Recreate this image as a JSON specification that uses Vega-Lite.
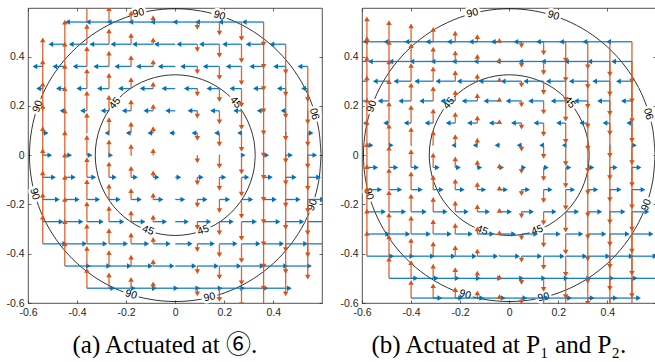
{
"$schema": "https://vega.github.io/schema/vega-lite/v6.json",
"padding": {"left": 5, "top": 5, "right": 0, "bottom": 0},
"spacing": 14,
"config": {
  "view": {"stroke": "#262626", "strokeWidth": 0.8},
  "axis": {"grid": false, "domain": false, "tickSize": -3, "tickColor": "#262626", "tickWidth": 0.7, "labelFont": "Liberation Sans", "labelFontSize": 10.5, "labelColor": "#262626", "labelPadding": 7, "labelFlush": false, "labelOverlap": false}
},
"datasets": {
"circ": [
{"c":"i","k":0,"x":0.326,"y":0},{"c":"i","k":1,"x":0.321,"y":0.0566},{"c":"i","k":2,"x":0.3063,"y":0.1115},{"c":"i","k":3,"x":0.2823,"y":0.163},{"c":"i","k":4,"x":0.2497,"y":0.2096},{"c":"i","k":5,"x":0.2096,"y":0.2497},{"c":"i","k":6,"x":0.163,"y":0.2823},{"c":"i","k":7,"x":0.1115,"y":0.3063},{"c":"i","k":8,"x":0.0566,"y":0.321},{"c":"i","k":9,"x":0,"y":0.326},{"c":"i","k":10,"x":-0.0566,"y":0.321},{"c":"i","k":11,"x":-0.1115,"y":0.3063},{"c":"i","k":12,"x":-0.163,"y":0.2823},{"c":"i","k":13,"x":-0.2096,"y":0.2497},{"c":"i","k":14,"x":-0.2497,"y":0.2096},{"c":"i","k":15,"x":-0.2823,"y":0.163},{"c":"i","k":16,"x":-0.3063,"y":0.1115},{"c":"i","k":17,"x":-0.321,"y":0.0566},{"c":"i","k":18,"x":-0.326,"y":0},{"c":"i","k":19,"x":-0.321,"y":-0.0566},{"c":"i","k":20,"x":-0.3063,"y":-0.1115},{"c":"i","k":21,"x":-0.2823,"y":-0.163},{"c":"i","k":22,"x":-0.2497,"y":-0.2096},{"c":"i","k":23,"x":-0.2096,"y":-0.2497},{"c":"i","k":24,"x":-0.163,"y":-0.2823},{"c":"i","k":25,"x":-0.1115,"y":-0.3063},{"c":"i","k":26,"x":-0.0566,"y":-0.321},{"c":"i","k":27,"x":0,"y":-0.326},{"c":"i","k":28,"x":0.0566,"y":-0.321},{"c":"i","k":29,"x":0.1115,"y":-0.3063},{"c":"i","k":30,"x":0.163,"y":-0.2823},{"c":"i","k":31,"x":0.2096,"y":-0.2497},{"c":"i","k":32,"x":0.2497,"y":-0.2096},{"c":"i","k":33,"x":0.2823,"y":-0.163},{"c":"i","k":34,"x":0.3063,"y":-0.1115},{"c":"i","k":35,"x":0.321,"y":-0.0566},{"c":"i","k":36,"x":0.326,"y":0},
{"c":"o","k":0,"x":0.594,"y":0},{"c":"o","k":1,"x":0.585,"y":0.1031},{"c":"o","k":2,"x":0.5582,"y":0.2031},{"c":"o","k":3,"x":0.5144,"y":0.297},{"c":"o","k":4,"x":0.455,"y":0.3818},{"c":"o","k":5,"x":0.3818,"y":0.455},{"c":"o","k":6,"x":0.297,"y":0.5144},{"c":"o","k":7,"x":0.2031,"y":0.5582},{"c":"o","k":8,"x":0.1031,"y":0.585},{"c":"o","k":9,"x":0,"y":0.594},{"c":"o","k":10,"x":-0.1031,"y":0.585},{"c":"o","k":11,"x":-0.2031,"y":0.5582},{"c":"o","k":12,"x":-0.297,"y":0.5144},{"c":"o","k":13,"x":-0.3818,"y":0.455},{"c":"o","k":14,"x":-0.455,"y":0.3818},{"c":"o","k":15,"x":-0.5144,"y":0.297},{"c":"o","k":16,"x":-0.5582,"y":0.2031},{"c":"o","k":17,"x":-0.585,"y":0.1031},{"c":"o","k":18,"x":-0.594,"y":0},{"c":"o","k":19,"x":-0.585,"y":-0.1031},{"c":"o","k":20,"x":-0.5582,"y":-0.2031},{"c":"o","k":21,"x":-0.5144,"y":-0.297},{"c":"o","k":22,"x":-0.455,"y":-0.3818},{"c":"o","k":23,"x":-0.3818,"y":-0.455},{"c":"o","k":24,"x":-0.297,"y":-0.5144},{"c":"o","k":25,"x":-0.2031,"y":-0.5582},{"c":"o","k":26,"x":-0.1031,"y":-0.585},{"c":"o","k":27,"x":0,"y":-0.594},{"c":"o","k":28,"x":0.1031,"y":-0.585},{"c":"o","k":29,"x":0.2031,"y":-0.5582},{"c":"o","k":30,"x":0.297,"y":-0.5144},{"c":"o","k":31,"x":0.3818,"y":-0.455},{"c":"o","k":32,"x":0.455,"y":-0.3818},{"c":"o","k":33,"x":0.5144,"y":-0.297},{"c":"o","k":34,"x":0.5582,"y":-0.2031},{"c":"o","k":35,"x":0.585,"y":-0.1031},{"c":"o","k":36,"x":0.594,"y":0}
],
"lab": [
{"k":1,"t":"90","x":-0.15,"y":0.576},{"k":2,"t":"90","x":0.18,"y":0.566},{"k":3,"t":"90","x":-0.56,"y":0.198},{"k":4,"t":"90","x":-0.573,"y":-0.158},{"k":5,"t":"90","x":0.571,"y":0.168},{"k":6,"t":"90","x":0.559,"y":-0.202},{"k":7,"t":"90","x":-0.18,"y":-0.566},{"k":8,"t":"90","x":0.14,"y":-0.577},{"k":9,"t":"45","x":-0.246,"y":0.21},{"k":10,"t":"45","x":0.246,"y":0.213},{"k":11,"t":"45","x":-0.111,"y":-0.306},{"k":12,"t":"45","x":0.114,"y":-0.305}
],
"arr": [
{"p":"a","x":-0.54,"y":0.36,"xu":-0.572,"yv":0.468},{"p":"a","x":-0.54,"y":0.27,"xu":-0.557,"yv":0.378},{"p":"a","x":-0.54,"y":0.18,"xu":-0.542,"yv":0.288},{"p":"a","x":-0.54,"y":0.09,"xu":-0.526,"yv":0.198},{"p":"a","x":-0.54,"y":0,"xu":-0.511,"yv":0.108},{"p":"a","x":-0.54,"y":-0.09,"xu":-0.496,"yv":0.018},{"p":"a","x":-0.54,"y":-0.18,"xu":-0.48,"yv":-0.072},{"p":"a","x":-0.54,"y":-0.27,"xu":-0.465,"yv":-0.162},{"p":"a","x":-0.54,"y":-0.36,"xu":-0.45,"yv":-0.252},
{"p":"a","x":-0.45,"y":0.45,"xu":-0.507,"yv":0.54},{"p":"a","x":-0.45,"y":0.36,"xu":-0.491,"yv":0.45},{"p":"a","x":-0.45,"y":0.27,"xu":-0.476,"yv":0.36},{"p":"a","x":-0.45,"y":0.18,"xu":-0.461,"yv":0.27},{"p":"a","x":-0.45,"y":0.09,"xu":-0.445,"yv":0.18},{"p":"a","x":-0.45,"y":0,"xu":-0.43,"yv":0.09},{"p":"a","x":-0.45,"y":-0.09,"xu":-0.415,"yv":0},{"p":"a","x":-0.45,"y":-0.18,"xu":-0.399,"yv":-0.09},{"p":"a","x":-0.45,"y":-0.27,"xu":-0.384,"yv":-0.18},{"p":"a","x":-0.45,"y":-0.36,"xu":-0.369,"yv":-0.27},{"p":"a","x":-0.45,"y":-0.45,"xu":-0.354,"yv":-0.36},
{"p":"a","x":-0.36,"y":0.54,"xu":-0.439,"yv":0.612},{"p":"a","x":-0.36,"y":0.45,"xu":-0.424,"yv":0.522},{"p":"a","x":-0.36,"y":0.36,"xu":-0.408,"yv":0.432},{"p":"a","x":-0.36,"y":0.27,"xu":-0.393,"yv":0.342},{"p":"a","x":-0.36,"y":0.18,"xu":-0.378,"yv":0.252},{"p":"a","x":-0.36,"y":0.09,"xu":-0.362,"yv":0.162},{"p":"a","x":-0.36,"y":0,"xu":-0.347,"yv":0.072},{"p":"a","x":-0.36,"y":-0.09,"xu":-0.332,"yv":-0.018},{"p":"a","x":-0.36,"y":-0.18,"xu":-0.316,"yv":-0.108},{"p":"a","x":-0.36,"y":-0.27,"xu":-0.301,"yv":-0.198},{"p":"a","x":-0.36,"y":-0.36,"xu":-0.286,"yv":-0.288},{"p":"a","x":-0.36,"y":-0.45,"xu":-0.271,"yv":-0.378},{"p":"a","x":-0.36,"y":-0.54,"xu":-0.255,"yv":-0.468},
{"p":"a","x":-0.27,"y":0.54,"xu":-0.355,"yv":0.594},{"p":"a","x":-0.27,"y":0.45,"xu":-0.34,"yv":0.504},{"p":"a","x":-0.27,"y":0.36,"xu":-0.324,"yv":0.414},{"p":"a","x":-0.27,"y":0.27,"xu":-0.309,"yv":0.324},{"p":"a","x":-0.27,"y":0.18,"xu":-0.294,"yv":0.234},{"p":"a","x":-0.27,"y":0.09,"xu":-0.278,"yv":0.144},{"p":"a","x":-0.27,"y":0,"xu":-0.263,"yv":0.054},{"p":"a","x":-0.27,"y":-0.09,"xu":-0.248,"yv":-0.036},{"p":"a","x":-0.27,"y":-0.18,"xu":-0.232,"yv":-0.126},{"p":"a","x":-0.27,"y":-0.27,"xu":-0.217,"yv":-0.216},{"p":"a","x":-0.27,"y":-0.36,"xu":-0.202,"yv":-0.306},{"p":"a","x":-0.27,"y":-0.45,"xu":-0.187,"yv":-0.396},{"p":"a","x":-0.27,"y":-0.54,"xu":-0.171,"yv":-0.486},
{"p":"a","x":-0.18,"y":0.54,"xu":-0.269,"yv":0.576},{"p":"a","x":-0.18,"y":0.45,"xu":-0.254,"yv":0.486},{"p":"a","x":-0.18,"y":0.36,"xu":-0.238,"yv":0.396},{"p":"a","x":-0.18,"y":0.27,"xu":-0.223,"yv":0.306},{"p":"a","x":-0.18,"y":0.18,"xu":-0.208,"yv":0.216},{"p":"a","x":-0.18,"y":0.09,"xu":-0.192,"yv":0.126},{"p":"a","x":-0.18,"y":0,"xu":-0.177,"yv":0.036},{"p":"a","x":-0.18,"y":-0.09,"xu":-0.162,"yv":-0.054},{"p":"a","x":-0.18,"y":-0.18,"xu":-0.146,"yv":-0.144},{"p":"a","x":-0.18,"y":-0.27,"xu":-0.131,"yv":-0.234},{"p":"a","x":-0.18,"y":-0.36,"xu":-0.116,"yv":-0.324},{"p":"a","x":-0.18,"y":-0.45,"xu":-0.101,"yv":-0.414},{"p":"a","x":-0.18,"y":-0.54,"xu":-0.085,"yv":-0.504},
{"p":"a","x":-0.09,"y":0.54,"xu":-0.181,"yv":0.558},{"p":"a","x":-0.09,"y":0.45,"xu":-0.166,"yv":0.468},{"p":"a","x":-0.09,"y":0.36,"xu":-0.15,"yv":0.378},{"p":"a","x":-0.09,"y":0.27,"xu":-0.135,"yv":0.288},{"p":"a","x":-0.09,"y":0.18,"xu":-0.12,"yv":0.198},{"p":"a","x":-0.09,"y":0.09,"xu":-0.104,"yv":0.108},{"p":"a","x":-0.09,"y":0,"xu":-0.089,"yv":0.018},{"p":"a","x":-0.09,"y":-0.09,"xu":-0.074,"yv":-0.072},{"p":"a","x":-0.09,"y":-0.18,"xu":-0.058,"yv":-0.162},{"p":"a","x":-0.09,"y":-0.27,"xu":-0.043,"yv":-0.252},{"p":"a","x":-0.09,"y":-0.36,"xu":-0.028,"yv":-0.342},{"p":"a","x":-0.09,"y":-0.45,"xu":-0.013,"yv":-0.432},{"p":"a","x":-0.09,"y":-0.54,"xu":0.003,"yv":-0.522},
{"p":"a","x":0,"y":0.54,"xu":-0.092,"yv":0.54},{"p":"a","x":0,"y":0.45,"xu":-0.077,"yv":0.45},{"p":"a","x":0,"y":0.36,"xu":-0.061,"yv":0.36},{"p":"a","x":0,"y":0.27,"xu":-0.046,"yv":0.27},{"p":"a","x":0,"y":0.18,"xu":-0.031,"yv":0.18},{"p":"a","x":0,"y":0.09,"xu":-0.015,"yv":0.09},{"p":"a","x":0,"y":0,"xu":0,"yv":0},{"p":"a","x":0,"y":-0.09,"xu":0.015,"yv":-0.09},{"p":"a","x":0,"y":-0.18,"xu":0.031,"yv":-0.18},{"p":"a","x":0,"y":-0.27,"xu":0.046,"yv":-0.27},{"p":"a","x":0,"y":-0.36,"xu":0.061,"yv":-0.36},{"p":"a","x":0,"y":-0.45,"xu":0.077,"yv":-0.45},{"p":"a","x":0,"y":-0.54,"xu":0.092,"yv":-0.54},
{"p":"a","x":0.09,"y":0.54,"xu":-0.001,"yv":0.518},{"p":"a","x":0.09,"y":0.45,"xu":0.015,"yv":0.428},{"p":"a","x":0.09,"y":0.36,"xu":0.03,"yv":0.338},{"p":"a","x":0.09,"y":0.27,"xu":0.045,"yv":0.248},{"p":"a","x":0.09,"y":0.18,"xu":0.06,"yv":0.158},{"p":"a","x":0.09,"y":0.09,"xu":0.076,"yv":0.068},{"p":"a","x":0.09,"y":0,"xu":0.091,"yv":-0.023},{"p":"a","x":0.09,"y":-0.09,"xu":0.106,"yv":-0.113},{"p":"a","x":0.09,"y":-0.18,"xu":0.122,"yv":-0.203},{"p":"a","x":0.09,"y":-0.27,"xu":0.137,"yv":-0.293},{"p":"a","x":0.09,"y":-0.36,"xu":0.152,"yv":-0.383},{"p":"a","x":0.09,"y":-0.45,"xu":0.168,"yv":-0.473},{"p":"a","x":0.09,"y":-0.54,"xu":0.183,"yv":-0.563},
{"p":"a","x":0.18,"y":0.54,"xu":0.091,"yv":0.495},{"p":"a","x":0.18,"y":0.45,"xu":0.107,"yv":0.405},{"p":"a","x":0.18,"y":0.36,"xu":0.122,"yv":0.315},{"p":"a","x":0.18,"y":0.27,"xu":0.137,"yv":0.225},{"p":"a","x":0.18,"y":0.18,"xu":0.152,"yv":0.135},{"p":"a","x":0.18,"y":0.09,"xu":0.168,"yv":0.045},{"p":"a","x":0.18,"y":0,"xu":0.183,"yv":-0.045},{"p":"a","x":0.18,"y":-0.09,"xu":0.198,"yv":-0.135},{"p":"a","x":0.18,"y":-0.18,"xu":0.214,"yv":-0.225},{"p":"a","x":0.18,"y":-0.27,"xu":0.229,"yv":-0.315},{"p":"a","x":0.18,"y":-0.36,"xu":0.244,"yv":-0.405},{"p":"a","x":0.18,"y":-0.45,"xu":0.26,"yv":-0.495},{"p":"a","x":0.18,"y":-0.54,"xu":0.275,"yv":-0.585},
{"p":"a","x":0.27,"y":0.54,"xu":0.185,"yv":0.473},{"p":"a","x":0.27,"y":0.45,"xu":0.201,"yv":0.383},{"p":"a","x":0.27,"y":0.36,"xu":0.216,"yv":0.293},{"p":"a","x":0.27,"y":0.27,"xu":0.231,"yv":0.203},{"p":"a","x":0.27,"y":0.18,"xu":0.246,"yv":0.113},{"p":"a","x":0.27,"y":0.09,"xu":0.262,"yv":0.023},{"p":"a","x":0.27,"y":0,"xu":0.277,"yv":-0.068},{"p":"a","x":0.27,"y":-0.09,"xu":0.292,"yv":-0.158},{"p":"a","x":0.27,"y":-0.18,"xu":0.308,"yv":-0.248},{"p":"a","x":0.27,"y":-0.27,"xu":0.323,"yv":-0.338},{"p":"a","x":0.27,"y":-0.36,"xu":0.338,"yv":-0.428},{"p":"a","x":0.27,"y":-0.45,"xu":0.354,"yv":-0.518},{"p":"a","x":0.27,"y":-0.54,"xu":0.369,"yv":-0.608},
{"p":"a","x":0.36,"y":0.54,"xu":0.281,"yv":0.45},{"p":"a","x":0.36,"y":0.45,"xu":0.297,"yv":0.36},{"p":"a","x":0.36,"y":0.36,"xu":0.312,"yv":0.27},{"p":"a","x":0.36,"y":0.27,"xu":0.327,"yv":0.18},{"p":"a","x":0.36,"y":0.18,"xu":0.342,"yv":0.09},{"p":"a","x":0.36,"y":0.09,"xu":0.358,"yv":0},{"p":"a","x":0.36,"y":0,"xu":0.373,"yv":-0.09},{"p":"a","x":0.36,"y":-0.09,"xu":0.388,"yv":-0.18},{"p":"a","x":0.36,"y":-0.18,"xu":0.404,"yv":-0.27},{"p":"a","x":0.36,"y":-0.27,"xu":0.419,"yv":-0.36},{"p":"a","x":0.36,"y":-0.36,"xu":0.434,"yv":-0.45},{"p":"a","x":0.36,"y":-0.45,"xu":0.45,"yv":-0.54},{"p":"a","x":0.36,"y":-0.54,"xu":0.465,"yv":-0.63},
{"p":"a","x":0.45,"y":0.45,"xu":0.394,"yv":0.338},{"p":"a","x":0.45,"y":0.36,"xu":0.409,"yv":0.248},{"p":"a","x":0.45,"y":0.27,"xu":0.424,"yv":0.158},{"p":"a","x":0.45,"y":0.18,"xu":0.439,"yv":0.068},{"p":"a","x":0.45,"y":0.09,"xu":0.455,"yv":-0.023},{"p":"a","x":0.45,"y":0,"xu":0.47,"yv":-0.113},{"p":"a","x":0.45,"y":-0.09,"xu":0.485,"yv":-0.203},{"p":"a","x":0.45,"y":-0.18,"xu":0.501,"yv":-0.293},{"p":"a","x":0.45,"y":-0.27,"xu":0.516,"yv":-0.383},{"p":"a","x":0.45,"y":-0.36,"xu":0.531,"yv":-0.473},{"p":"a","x":0.45,"y":-0.45,"xu":0.547,"yv":-0.563},
{"p":"a","x":0.54,"y":0.36,"xu":0.508,"yv":0.225},{"p":"a","x":0.54,"y":0.27,"xu":0.523,"yv":0.135},{"p":"a","x":0.54,"y":0.18,"xu":0.538,"yv":0.045},{"p":"a","x":0.54,"y":0.09,"xu":0.554,"yv":-0.045},{"p":"a","x":0.54,"y":0,"xu":0.569,"yv":-0.135},{"p":"a","x":0.54,"y":-0.09,"xu":0.584,"yv":-0.225},{"p":"a","x":0.54,"y":-0.18,"xu":0.6,"yv":-0.315},{"p":"a","x":0.54,"y":-0.27,"xu":0.615,"yv":-0.405},{"p":"a","x":0.54,"y":-0.36,"xu":0.63,"yv":-0.495},
{"p":"b","x":-0.58,"y":0.46,"xu":-0.668,"yv":0.553},{"p":"b","x":-0.58,"y":0.38,"xu":-0.648,"yv":0.473},{"p":"b","x":-0.58,"y":0.3,"xu":-0.628,"yv":0.393},{"p":"b","x":-0.58,"y":0.22,"xu":-0.608,"yv":0.313},{"p":"b","x":-0.58,"y":0.13,"xu":-0.586,"yv":0.223},{"p":"b","x":-0.58,"y":0.04,"xu":-0.563,"yv":0.133},{"p":"b","x":-0.58,"y":-0.05,"xu":-0.544,"yv":0.043},{"p":"b","x":-0.58,"y":-0.14,"xu":-0.528,"yv":-0.047},{"p":"b","x":-0.58,"y":-0.23,"xu":-0.512,"yv":-0.137},{"p":"b","x":-0.58,"y":-0.32,"xu":-0.495,"yv":-0.227},{"p":"b","x":-0.58,"y":-0.41,"xu":-0.479,"yv":-0.317},
{"p":"b","x":-0.49,"y":0.46,"xu":-0.586,"yv":0.538},{"p":"b","x":-0.49,"y":0.38,"xu":-0.566,"yv":0.458},{"p":"b","x":-0.49,"y":0.3,"xu":-0.546,"yv":0.378},{"p":"b","x":-0.49,"y":0.22,"xu":-0.526,"yv":0.298},{"p":"b","x":-0.49,"y":0.13,"xu":-0.504,"yv":0.208},{"p":"b","x":-0.49,"y":0.04,"xu":-0.481,"yv":0.118},{"p":"b","x":-0.49,"y":-0.05,"xu":-0.462,"yv":0.028},{"p":"b","x":-0.49,"y":-0.14,"xu":-0.446,"yv":-0.062},{"p":"b","x":-0.49,"y":-0.23,"xu":-0.43,"yv":-0.152},{"p":"b","x":-0.49,"y":-0.32,"xu":-0.413,"yv":-0.242},{"p":"b","x":-0.49,"y":-0.41,"xu":-0.397,"yv":-0.332},{"p":"b","x":-0.49,"y":-0.5,"xu":-0.381,"yv":-0.422},
{"p":"b","x":-0.4,"y":0.46,"xu":-0.502,"yv":0.524},{"p":"b","x":-0.4,"y":0.38,"xu":-0.482,"yv":0.444},{"p":"b","x":-0.4,"y":0.3,"xu":-0.462,"yv":0.364},{"p":"b","x":-0.4,"y":0.22,"xu":-0.442,"yv":0.284},{"p":"b","x":-0.4,"y":0.13,"xu":-0.42,"yv":0.194},{"p":"b","x":-0.4,"y":0.04,"xu":-0.397,"yv":0.104},{"p":"b","x":-0.4,"y":-0.05,"xu":-0.378,"yv":0.014},{"p":"b","x":-0.4,"y":-0.14,"xu":-0.362,"yv":-0.076},{"p":"b","x":-0.4,"y":-0.23,"xu":-0.346,"yv":-0.166},{"p":"b","x":-0.4,"y":-0.32,"xu":-0.329,"yv":-0.256},{"p":"b","x":-0.4,"y":-0.41,"xu":-0.313,"yv":-0.346},{"p":"b","x":-0.4,"y":-0.5,"xu":-0.297,"yv":-0.436},{"p":"b","x":-0.4,"y":-0.58,"xu":-0.283,"yv":-0.516},
{"p":"b","x":-0.31,"y":0.46,"xu":-0.417,"yv":0.51},{"p":"b","x":-0.31,"y":0.38,"xu":-0.397,"yv":0.43},{"p":"b","x":-0.31,"y":0.3,"xu":-0.377,"yv":0.35},{"p":"b","x":-0.31,"y":0.22,"xu":-0.357,"yv":0.27},{"p":"b","x":-0.31,"y":0.13,"xu":-0.335,"yv":0.18},{"p":"b","x":-0.31,"y":0.04,"xu":-0.312,"yv":0.09},{"p":"b","x":-0.31,"y":-0.05,"xu":-0.293,"yv":0},{"p":"b","x":-0.31,"y":-0.14,"xu":-0.277,"yv":-0.09},{"p":"b","x":-0.31,"y":-0.23,"xu":-0.261,"yv":-0.18},{"p":"b","x":-0.31,"y":-0.32,"xu":-0.244,"yv":-0.27},{"p":"b","x":-0.31,"y":-0.41,"xu":-0.228,"yv":-0.36},{"p":"b","x":-0.31,"y":-0.5,"xu":-0.212,"yv":-0.45},{"p":"b","x":-0.31,"y":-0.58,"xu":-0.198,"yv":-0.53},
{"p":"b","x":-0.22,"y":0.46,"xu":-0.331,"yv":0.495},{"p":"b","x":-0.22,"y":0.38,"xu":-0.311,"yv":0.415},{"p":"b","x":-0.22,"y":0.3,"xu":-0.291,"yv":0.335},{"p":"b","x":-0.22,"y":0.22,"xu":-0.271,"yv":0.255},{"p":"b","x":-0.22,"y":0.13,"xu":-0.249,"yv":0.165},{"p":"b","x":-0.22,"y":0.04,"xu":-0.226,"yv":0.075},{"p":"b","x":-0.22,"y":-0.05,"xu":-0.207,"yv":-0.015},{"p":"b","x":-0.22,"y":-0.14,"xu":-0.191,"yv":-0.105},{"p":"b","x":-0.22,"y":-0.23,"xu":-0.175,"yv":-0.195},{"p":"b","x":-0.22,"y":-0.32,"xu":-0.158,"yv":-0.285},{"p":"b","x":-0.22,"y":-0.41,"xu":-0.142,"yv":-0.375},{"p":"b","x":-0.22,"y":-0.5,"xu":-0.126,"yv":-0.465},{"p":"b","x":-0.22,"y":-0.58,"xu":-0.112,"yv":-0.545},
{"p":"b","x":-0.13,"y":0.46,"xu":-0.244,"yv":0.481},{"p":"b","x":-0.13,"y":0.38,"xu":-0.224,"yv":0.401},{"p":"b","x":-0.13,"y":0.3,"xu":-0.204,"yv":0.321},{"p":"b","x":-0.13,"y":0.22,"xu":-0.184,"yv":0.241},{"p":"b","x":-0.13,"y":0.13,"xu":-0.162,"yv":0.151},{"p":"b","x":-0.13,"y":0.04,"xu":-0.139,"yv":0.061},{"p":"b","x":-0.13,"y":-0.05,"xu":-0.12,"yv":-0.029},{"p":"b","x":-0.13,"y":-0.14,"xu":-0.104,"yv":-0.119},{"p":"b","x":-0.13,"y":-0.23,"xu":-0.088,"yv":-0.209},{"p":"b","x":-0.13,"y":-0.32,"xu":-0.071,"yv":-0.299},{"p":"b","x":-0.13,"y":-0.41,"xu":-0.055,"yv":-0.389},{"p":"b","x":-0.13,"y":-0.5,"xu":-0.039,"yv":-0.479},{"p":"b","x":-0.13,"y":-0.58,"xu":-0.025,"yv":-0.559},
{"p":"b","x":-0.04,"y":0.46,"xu":-0.155,"yv":0.466},{"p":"b","x":-0.04,"y":0.38,"xu":-0.135,"yv":0.386},{"p":"b","x":-0.04,"y":0.3,"xu":-0.115,"yv":0.306},{"p":"b","x":-0.04,"y":0.22,"xu":-0.095,"yv":0.226},{"p":"b","x":-0.04,"y":0.13,"xu":-0.073,"yv":0.136},{"p":"b","x":-0.04,"y":0.04,"xu":-0.05,"yv":0.046},{"p":"b","x":-0.04,"y":-0.05,"xu":-0.031,"yv":-0.044},{"p":"b","x":-0.04,"y":-0.14,"xu":-0.015,"yv":-0.134},{"p":"b","x":-0.04,"y":-0.23,"xu":0.001,"yv":-0.224},{"p":"b","x":-0.04,"y":-0.32,"xu":0.018,"yv":-0.314},{"p":"b","x":-0.04,"y":-0.41,"xu":0.034,"yv":-0.404},{"p":"b","x":-0.04,"y":-0.5,"xu":0.05,"yv":-0.494},{"p":"b","x":-0.04,"y":-0.58,"xu":0.064,"yv":-0.574},
{"p":"b","x":0.05,"y":0.46,"xu":-0.065,"yv":0.444},{"p":"b","x":0.05,"y":0.38,"xu":-0.045,"yv":0.364},{"p":"b","x":0.05,"y":0.3,"xu":-0.025,"yv":0.284},{"p":"b","x":0.05,"y":0.22,"xu":-0.005,"yv":0.204},{"p":"b","x":0.05,"y":0.13,"xu":0.017,"yv":0.114},{"p":"b","x":0.05,"y":0.04,"xu":0.04,"yv":0.024},{"p":"b","x":0.05,"y":-0.05,"xu":0.059,"yv":-0.066},{"p":"b","x":0.05,"y":-0.14,"xu":0.075,"yv":-0.156},{"p":"b","x":0.05,"y":-0.23,"xu":0.091,"yv":-0.246},{"p":"b","x":0.05,"y":-0.32,"xu":0.108,"yv":-0.336},{"p":"b","x":0.05,"y":-0.41,"xu":0.124,"yv":-0.426},{"p":"b","x":0.05,"y":-0.5,"xu":0.14,"yv":-0.516},{"p":"b","x":0.05,"y":-0.58,"xu":0.154,"yv":-0.596},
{"p":"b","x":0.14,"y":0.46,"xu":0.027,"yv":0.415},{"p":"b","x":0.14,"y":0.38,"xu":0.047,"yv":0.335},{"p":"b","x":0.14,"y":0.3,"xu":0.067,"yv":0.255},{"p":"b","x":0.14,"y":0.22,"xu":0.087,"yv":0.175},{"p":"b","x":0.14,"y":0.13,"xu":0.109,"yv":0.085},{"p":"b","x":0.14,"y":0.04,"xu":0.132,"yv":-0.005},{"p":"b","x":0.14,"y":-0.05,"xu":0.151,"yv":-0.095},{"p":"b","x":0.14,"y":-0.14,"xu":0.167,"yv":-0.185},{"p":"b","x":0.14,"y":-0.23,"xu":0.183,"yv":-0.275},{"p":"b","x":0.14,"y":-0.32,"xu":0.2,"yv":-0.365},{"p":"b","x":0.14,"y":-0.41,"xu":0.216,"yv":-0.455},{"p":"b","x":0.14,"y":-0.5,"xu":0.232,"yv":-0.545},{"p":"b","x":0.14,"y":-0.58,"xu":0.246,"yv":-0.625},
{"p":"b","x":0.23,"y":0.46,"xu":0.119,"yv":0.386},{"p":"b","x":0.23,"y":0.38,"xu":0.139,"yv":0.306},{"p":"b","x":0.23,"y":0.3,"xu":0.159,"yv":0.226},{"p":"b","x":0.23,"y":0.22,"xu":0.179,"yv":0.146},{"p":"b","x":0.23,"y":0.13,"xu":0.201,"yv":0.056},{"p":"b","x":0.23,"y":0.04,"xu":0.224,"yv":-0.034},{"p":"b","x":0.23,"y":-0.05,"xu":0.243,"yv":-0.124},{"p":"b","x":0.23,"y":-0.14,"xu":0.259,"yv":-0.214},{"p":"b","x":0.23,"y":-0.23,"xu":0.275,"yv":-0.304},{"p":"b","x":0.23,"y":-0.32,"xu":0.292,"yv":-0.394},{"p":"b","x":0.23,"y":-0.41,"xu":0.308,"yv":-0.484},{"p":"b","x":0.23,"y":-0.5,"xu":0.324,"yv":-0.574},{"p":"b","x":0.23,"y":-0.58,"xu":0.338,"yv":-0.654},
{"p":"b","x":0.32,"y":0.46,"xu":0.213,"yv":0.358},{"p":"b","x":0.32,"y":0.38,"xu":0.233,"yv":0.278},{"p":"b","x":0.32,"y":0.3,"xu":0.253,"yv":0.198},{"p":"b","x":0.32,"y":0.22,"xu":0.273,"yv":0.118},{"p":"b","x":0.32,"y":0.13,"xu":0.295,"yv":0.028},{"p":"b","x":0.32,"y":0.04,"xu":0.318,"yv":-0.062},{"p":"b","x":0.32,"y":-0.05,"xu":0.337,"yv":-0.152},{"p":"b","x":0.32,"y":-0.14,"xu":0.353,"yv":-0.242},{"p":"b","x":0.32,"y":-0.23,"xu":0.369,"yv":-0.332},{"p":"b","x":0.32,"y":-0.32,"xu":0.386,"yv":-0.422},{"p":"b","x":0.32,"y":-0.41,"xu":0.402,"yv":-0.512},{"p":"b","x":0.32,"y":-0.5,"xu":0.418,"yv":-0.602},{"p":"b","x":0.32,"y":-0.58,"xu":0.432,"yv":-0.682},
{"p":"b","x":0.41,"y":0.46,"xu":0.308,"yv":0.329},{"p":"b","x":0.41,"y":0.38,"xu":0.328,"yv":0.249},{"p":"b","x":0.41,"y":0.3,"xu":0.348,"yv":0.169},{"p":"b","x":0.41,"y":0.22,"xu":0.368,"yv":0.089},{"p":"b","x":0.41,"y":0.13,"xu":0.39,"yv":-0.001},{"p":"b","x":0.41,"y":0.04,"xu":0.413,"yv":-0.091},{"p":"b","x":0.41,"y":-0.05,"xu":0.432,"yv":-0.181},{"p":"b","x":0.41,"y":-0.14,"xu":0.448,"yv":-0.271},{"p":"b","x":0.41,"y":-0.23,"xu":0.464,"yv":-0.361},{"p":"b","x":0.41,"y":-0.32,"xu":0.481,"yv":-0.451},{"p":"b","x":0.41,"y":-0.41,"xu":0.497,"yv":-0.541},{"p":"b","x":0.41,"y":-0.5,"xu":0.513,"yv":-0.631},{"p":"b","x":0.41,"y":-0.58,"xu":0.527,"yv":-0.711},
{"p":"b","x":0.5,"y":0.46,"xu":0.405,"yv":0.3},{"p":"b","x":0.5,"y":0.38,"xu":0.425,"yv":0.22},{"p":"b","x":0.5,"y":0.3,"xu":0.445,"yv":0.14},{"p":"b","x":0.5,"y":0.22,"xu":0.465,"yv":0.06},{"p":"b","x":0.5,"y":0.13,"xu":0.487,"yv":-0.03},{"p":"b","x":0.5,"y":0.04,"xu":0.51,"yv":-0.12},{"p":"b","x":0.5,"y":-0.05,"xu":0.529,"yv":-0.21},{"p":"b","x":0.5,"y":-0.14,"xu":0.545,"yv":-0.3},{"p":"b","x":0.5,"y":-0.23,"xu":0.561,"yv":-0.39},{"p":"b","x":0.5,"y":-0.32,"xu":0.578,"yv":-0.48},{"p":"b","x":0.5,"y":-0.41,"xu":0.594,"yv":-0.57},{"p":"b","x":0.5,"y":-0.5,"xu":0.61,"yv":-0.66}
]
},
"hconcat": [
{
"width": 294, "height": 295,
"title": {"text": "(a) Actuated at ⑥.", "orient": "bottom", "anchor": "middle", "frame": "bounds", "font": "Liberation Serif, Noto Sans CJK JP", "fontSize": 25, "fontWeight": "normal", "color": "black", "offset": 15},
"resolve": {"axis": {"x": "independent", "y": "independent"}},
"layer": [
{"data": {"name": "circ"}, "mark": {"type": "line", "color": "black", "strokeWidth": 0.8, "interpolate": "cardinal"},
 "encoding": {"x": {"field": "x", "type": "quantitative", "scale": {"domain": [-0.6, 0.598], "nice": false, "zero": false}, "axis": {"orient": "bottom", "values": [-0.6,-0.4,-0.2,0,0.2,0.4], "labelExpr": "datum.value + ''", "title": null}},
  "y": {"field": "y", "type": "quantitative", "scale": {"domain": [-0.6, 0.597], "nice": false, "zero": false}, "axis": {"orient": "left", "values": [-0.6,-0.4,-0.2,0,0.2,0.4], "labelExpr": "datum.value + ''", "title": null}},
  "detail": {"field": "c"}, "order": {"field": "k"}}},
{"data": {"name": "circ"}, "mark": {"type": "point", "opacity": 0},
 "encoding": {"x": {"field": "x", "type": "quantitative", "scale": {"domain": [-0.6, 0.598], "nice": false, "zero": false}, "axis": {"orient": "top", "values": [-0.6,-0.4,-0.2,0,0.2,0.4], "labels": false, "title": null}},
  "y": {"field": "y", "type": "quantitative", "scale": {"domain": [-0.6, 0.597], "nice": false, "zero": false}, "axis": {"orient": "right", "values": [-0.6,-0.4,-0.2,0,0.2,0.4], "labels": false, "title": null}}}},
{"data": {"name": "lab"}, "mark": {"type": "text", "font": "Liberation Sans", "fontSize": 10.5, "stroke": "white", "strokeWidth": 5, "fill": "white", "align": "center", "baseline": "middle"},
 "encoding": {"x": {"field": "x", "type": "quantitative", "axis": null}, "y": {"field": "y", "type": "quantitative", "axis": null}, "text": {"field": "t"},
  "angle": {"field": "k", "type": "quantitative", "scale": {"type": "threshold", "domain": [1.5,2.5,3.5,4.5,5.5,6.5,7.5,8.5,9.5,10.5,11.5], "range": [-14,17,-72,75,-105,-70,17,-13,-50,50,20,-20]}, "legend": null}}},
{"data": {"name": "lab"}, "mark": {"type": "text", "font": "Liberation Sans", "fontSize": 10.5, "fill": "black", "align": "center", "baseline": "middle"},
 "encoding": {"x": {"field": "x", "type": "quantitative", "axis": null}, "y": {"field": "y", "type": "quantitative", "axis": null}, "text": {"field": "t"},
  "angle": {"field": "k", "type": "quantitative", "scale": {"type": "threshold", "domain": [1.5,2.5,3.5,4.5,5.5,6.5,7.5,8.5,9.5,10.5,11.5], "range": [-14,17,-72,75,-105,-70,17,-13,-50,50,20,-20]}, "legend": null}}},
{"data": {"name": "arr"}, "transform": [{"filter": "datum.p == 'a'"}], "mark": {"type": "rule", "color": "#0072BD", "strokeWidth": 1.3, "opacity": 0.9, "clip": true},
 "encoding": {"x": {"field": "x", "type": "quantitative", "axis": null}, "x2": {"field": "xu"}, "y": {"field": "y", "type": "quantitative", "axis": null}}},
{"data": {"name": "arr"}, "transform": [{"filter": "datum.p == 'a' && abs(datum.xu - datum.x) > 0.006"}], "mark": {"type": "point", "filled": true, "size": 30, "color": "#0072BD", "opacity": 1, "clip": true},
 "encoding": {"x": {"field": "xu", "type": "quantitative", "axis": null}, "y": {"field": "y", "type": "quantitative", "axis": null},
  "shape": {"condition": {"test": "datum.xu < datum.x", "value": "triangle-left"}, "value": "triangle-right"}}},
{"data": {"name": "arr"}, "transform": [{"filter": "datum.p == 'a'"}], "mark": {"type": "rule", "color": "#D95319", "strokeWidth": 1.3, "opacity": 0.9, "clip": true},
 "encoding": {"x": {"field": "x", "type": "quantitative", "axis": null}, "y": {"field": "y", "type": "quantitative", "axis": null}, "y2": {"field": "yv"}}},
{"data": {"name": "arr"}, "transform": [{"filter": "datum.p == 'a' && abs(datum.yv - datum.y) > 0.006"}], "mark": {"type": "point", "filled": true, "size": 30, "color": "#D95319", "opacity": 1, "clip": true},
 "encoding": {"x": {"field": "x", "type": "quantitative", "axis": null}, "y": {"field": "yv", "type": "quantitative", "axis": null},
  "shape": {"condition": {"test": "datum.yv < datum.y", "value": "triangle-down"}, "value": "triangle-up"}}}
]
},
{
"width": 294, "height": 295,
"title": {"text": "(b) Actuated at P₁ and P₂.", "orient": "bottom", "anchor": "middle", "frame": "bounds", "font": "Liberation Serif", "fontSize": 25, "fontWeight": "normal", "color": "black", "offset": 15},
"resolve": {"axis": {"x": "independent", "y": "independent"}},
"layer": [
{"data": {"name": "circ"}, "mark": {"type": "line", "color": "black", "strokeWidth": 0.8, "interpolate": "cardinal"},
 "encoding": {"x": {"field": "x", "type": "quantitative", "scale": {"domain": [-0.6, 0.598], "nice": false, "zero": false}, "axis": {"orient": "bottom", "values": [-0.6,-0.4,-0.2,0,0.2,0.4], "labelExpr": "datum.value + ''", "title": null}},
  "y": {"field": "y", "type": "quantitative", "scale": {"domain": [-0.6, 0.597], "nice": false, "zero": false}, "axis": {"orient": "left", "values": [-0.6,-0.4,-0.2,0,0.2,0.4], "labelExpr": "datum.value + ''", "title": null}},
  "detail": {"field": "c"}, "order": {"field": "k"}}},
{"data": {"name": "circ"}, "mark": {"type": "point", "opacity": 0},
 "encoding": {"x": {"field": "x", "type": "quantitative", "scale": {"domain": [-0.6, 0.598], "nice": false, "zero": false}, "axis": {"orient": "top", "values": [-0.6,-0.4,-0.2,0,0.2,0.4], "labels": false, "title": null}},
  "y": {"field": "y", "type": "quantitative", "scale": {"domain": [-0.6, 0.597], "nice": false, "zero": false}, "axis": {"orient": "right", "values": [-0.6,-0.4,-0.2,0,0.2,0.4], "labels": false, "title": null}}}},
{"data": {"name": "lab"}, "mark": {"type": "text", "font": "Liberation Sans", "fontSize": 10.5, "stroke": "white", "strokeWidth": 5, "fill": "white", "align": "center", "baseline": "middle"},
 "encoding": {"x": {"field": "x", "type": "quantitative", "axis": null}, "y": {"field": "y", "type": "quantitative", "axis": null}, "text": {"field": "t"},
  "angle": {"field": "k", "type": "quantitative", "scale": {"type": "threshold", "domain": [1.5,2.5,3.5,4.5,5.5,6.5,7.5,8.5,9.5,10.5,11.5], "range": [-14,17,-72,75,-105,-70,17,-13,-50,50,20,-20]}, "legend": null}}},
{"data": {"name": "lab"}, "mark": {"type": "text", "font": "Liberation Sans", "fontSize": 10.5, "fill": "black", "align": "center", "baseline": "middle"},
 "encoding": {"x": {"field": "x", "type": "quantitative", "axis": null}, "y": {"field": "y", "type": "quantitative", "axis": null}, "text": {"field": "t"},
  "angle": {"field": "k", "type": "quantitative", "scale": {"type": "threshold", "domain": [1.5,2.5,3.5,4.5,5.5,6.5,7.5,8.5,9.5,10.5,11.5], "range": [-14,17,-72,75,-105,-70,17,-13,-50,50,20,-20]}, "legend": null}}},
{"data": {"name": "arr"}, "transform": [{"filter": "datum.p == 'b'"}], "mark": {"type": "rule", "color": "#0072BD", "strokeWidth": 1.3, "opacity": 0.9, "clip": true},
 "encoding": {"x": {"field": "x", "type": "quantitative", "axis": null}, "x2": {"field": "xu"}, "y": {"field": "y", "type": "quantitative", "axis": null}}},
{"data": {"name": "arr"}, "transform": [{"filter": "datum.p == 'b' && abs(datum.xu - datum.x) > 0.006"}], "mark": {"type": "point", "filled": true, "size": 30, "color": "#0072BD", "opacity": 1, "clip": true},
 "encoding": {"x": {"field": "xu", "type": "quantitative", "axis": null}, "y": {"field": "y", "type": "quantitative", "axis": null},
  "shape": {"condition": {"test": "datum.xu < datum.x", "value": "triangle-left"}, "value": "triangle-right"}}},
{"data": {"name": "arr"}, "transform": [{"filter": "datum.p == 'b'"}], "mark": {"type": "rule", "color": "#D95319", "strokeWidth": 1.3, "opacity": 0.9, "clip": true},
 "encoding": {"x": {"field": "x", "type": "quantitative", "axis": null}, "y": {"field": "y", "type": "quantitative", "axis": null}, "y2": {"field": "yv"}}},
{"data": {"name": "arr"}, "transform": [{"filter": "datum.p == 'b' && abs(datum.yv - datum.y) > 0.006"}], "mark": {"type": "point", "filled": true, "size": 30, "color": "#D95319", "opacity": 1, "clip": true},
 "encoding": {"x": {"field": "x", "type": "quantitative", "axis": null}, "y": {"field": "yv", "type": "quantitative", "axis": null},
  "shape": {"condition": {"test": "datum.yv < datum.y", "value": "triangle-down"}, "value": "triangle-up"}}}
]
}
]
}
